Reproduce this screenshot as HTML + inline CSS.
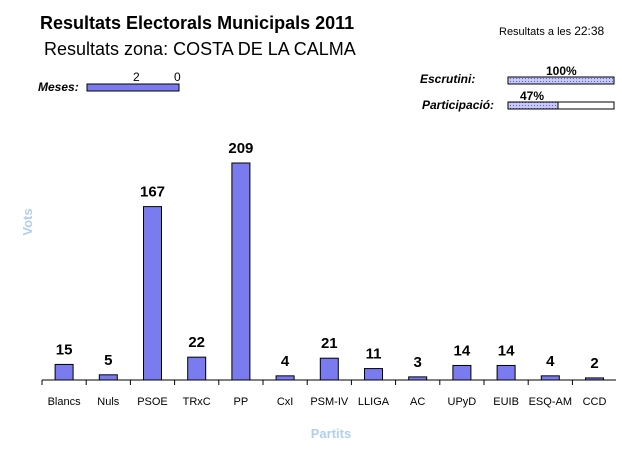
<!DOCTYPE html>
<html><head><meta charset="utf-8"><style>
body{margin:0;background:#fff;width:622px;height:452px;overflow:hidden;font-family:"Liberation Sans",sans-serif}
svg text{font-family:"Liberation Sans",sans-serif}
</style></head><body>
<svg width="622" height="452">
<defs><pattern id="hatch" width="3" height="3" patternUnits="userSpaceOnUse"><rect width="3" height="3" fill="#c8c8f8"/><rect width="1" height="1" fill="#6060c0"/></pattern></defs>
<text x="40" y="29" font-size="18" font-weight="bold">Resultats Electorals Municipals 2011</text>
<text x="44" y="55" font-size="18">Resultats zona: COSTA DE LA CALMA</text>
<text x="499" y="35" font-size="11">Resultats a les <tspan font-size="12">22:38</tspan></text>
<text x="38" y="91" font-size="12" font-style="italic" font-weight="bold">Meses:</text>
<rect x="87" y="84" width="92" height="7" fill="#7b7bf0" stroke="#000"/>
<text x="133" y="81" font-size="12">2</text>
<text x="174" y="81" font-size="12">0</text>
<text x="420" y="83" font-size="12" font-style="italic" font-weight="bold">Escrutini:</text>
<rect x="508" y="77" width="106" height="7" fill="url(#hatch)" stroke="#000"/>
<text x="546" y="75" font-size="12" font-weight="bold">100%</text>
<text x="422" y="109" font-size="12" font-style="italic" font-weight="bold">Participació:</text>
<rect x="508" y="102" width="106" height="7" fill="#fff" stroke="#000"/>
<rect x="508" y="102" width="50" height="7" fill="url(#hatch)" stroke="#000"/>
<text x="520" y="100" font-size="12" font-weight="bold">47%</text>
<text transform="translate(32,222) rotate(-90)" text-anchor="middle" font-size="13" font-weight="bold" fill="#b0cff0">Vots</text>
<text x="331" y="438" text-anchor="middle" font-size="13" font-weight="bold" fill="#b0cff0">Partits</text>
<g id="plot"></g>
</svg>
<script>
const categories=["Blancs","Nuls","PSOE","TRxC","PP","CxI","PSM-IV","LLIGA","AC","UPyD","EUIB","ESQ-AM","CCD"];
const votes=[15,5,167,22,209,4,21,11,3,14,14,4,2];
const x0=42,step=44.2,base=380,scale=217/209,bw=18;
const xs=i=>x0+step*i+step/2, ys=v=>base-v*scale;
const g=document.getElementById('plot'),NS='http://www.w3.org/2000/svg';
function mk(t,a){const e=document.createElementNS(NS,t);for(const k in a)e.setAttribute(k,a[k]);g.appendChild(e);return e;}
categories.forEach((c,i)=>{
const r=mk('rect',{x:xs(i)-bw/2,y:ys(votes[i]),width:bw,height:base-ys(votes[i]),fill:'#7b7bf0',stroke:'#000'});


const v=mk('text',{x:xs(i),y:ys(votes[i])-10,'text-anchor':'middle','font-size':'15','font-weight':'bold'});v.textContent=votes[i];


const l=mk('text',{x:xs(i),y:405,'text-anchor':'middle','font-size':'11'});l.textContent=c;


const t=mk('line',{x1:x0+step*i,x2:x0+step*i,y1:base,y2:base+5,stroke:'#000'});


});
const ax=mk('line',{x1:x0,x2:616,y1:base,y2:base,stroke:'#000'});


</script>
</body></html>
